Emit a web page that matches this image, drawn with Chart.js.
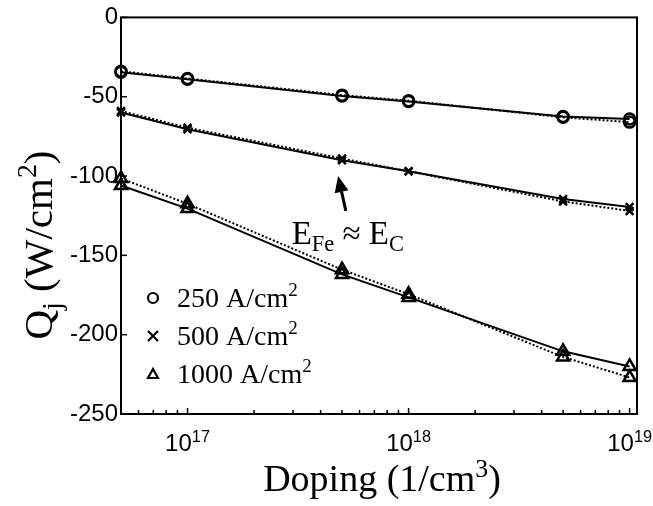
<!DOCTYPE html>
<html>
<head>
<meta charset="utf-8">
<script src="https://cdn.jsdelivr.net/npm/chart.js@4/dist/chart.umd.min.js"></script>
<style>
  html, body { margin: 0; padding: 0; background: #fff; }
  #wrap { width: 653px; height: 506px; }
</style>
</head>
<body>
<div id="wrap"><canvas id="c" width="653" height="506"></canvas></div>
<script>
// Doping levels (1/cm^3) and junction heat Q_j (W/cm^2) for three current densities.
const doping = [5e16, 1e17, 5e17, 1e18, 5e18, 1e19];

const q250Solid   = [-34.5, -39, -49.5, -53, -62.5, -64];
const q250Dotted  = [-34, -38.5, -49, -52.5, -63, -66];
const q500Solid   = [-60, -70.5, -90, -97, -114.5, -119.5];
const q500Dotted  = [-59, -69.5, -89, -97, -116, -122];
const q1000Solid  = [-106, -120.5, -162, -176.5, -210.5, -220];
const q1000Dotted = [-101.5, -117.5, -159, -174.5, -214, -227];

const legendLabels = ['250', '500', '1000'];
const legendMarkers = ['circle', 'crossRot', 'triangle'];
const xDecades = [17, 18, 19];
const yTicks = [0, -50, -100, -150, -200, -250];

// Annotation: arrow pointing at the 500 A/cm^2 curve, in data coordinates
const arrowTip = { x: 4.8e17, y: -100 };
const arrowTail = { x: 5.2e17, y: -122 };

function toPoints(vals) {
  return doping.map((d, i) => ({ x: d, y: vals[i] }));
}

function series(vals, style, dotted, radius) {
  return {
    data: toPoints(vals),
    borderColor: '#000',
    borderWidth: 2,
    borderDash: dotted ? [2, 2] : [],
    pointStyle: style,
    pointRadius: radius,
    pointBorderColor: '#000',
    pointBackgroundColor: 'rgba(0,0,0,0)',
    pointBorderWidth: 2.5,
    tension: 0,
    fill: false,
    clip: false
  };
}

const SERIF = '"Liberation Serif", "Times New Roman", serif';
const SANS = '"Liberation Sans", Arial, sans-serif';

// Draws a run of text pieces; each piece can be normal, sub or sup.
function richText(ctx, pieces, x, y, size) {
  let cx = x;
  for (const p of pieces) {
    const s = p.k === 'n' ? size : size * 0.68;
    const dy = p.k === 'sup' ? -size * 0.38 : (p.k === 'sub' ? size * 0.22 : 0);
    ctx.font = s + 'px ' + (p.f || SERIF);
    ctx.fillText(p.t, cx, y + dy);
    cx += ctx.measureText(p.t).width;
  }
  return cx - x;
}
function richWidth(ctx, pieces, size) {
  let w = 0;
  for (const p of pieces) {
    const s = p.k === 'n' ? size : size * 0.68;
    ctx.font = s + 'px ' + (p.f || SERIF);
    w += ctx.measureText(p.t).width;
  }
  return w;
}

function drawMarker(ctx, style, x, y, r) {
  ctx.beginPath();
  if (style === 'circle') {
    ctx.arc(x, y, r, 0, Math.PI * 2);
  } else if (style === 'crossRot') {
    ctx.moveTo(x - r, y - r); ctx.lineTo(x + r, y + r);
    ctx.moveTo(x - r, y + r); ctx.lineTo(x + r, y - r);
  } else {
    ctx.moveTo(x, y - r);
    ctx.lineTo(x + r, y + r * 0.8);
    ctx.lineTo(x - r, y + r * 0.8);
    ctx.closePath();
  }
  ctx.stroke();
}

const decorations = {
  id: 'decorations',
  afterDraw(chart) {
    const ctx = chart.ctx;
    const a = chart.chartArea;
    const xs = chart.scales.x, ys = chart.scales.y;
    ctx.save();
    ctx.strokeStyle = '#000';
    ctx.fillStyle = '#000';
    ctx.lineWidth = 2;
    // Axes box
    ctx.strokeRect(a.left, a.top, a.right - a.left, a.bottom - a.top);

    // Y ticks (inward, left axis only)
    ctx.lineWidth = 1.5;
    for (const v of yTicks) {
      const py = ys.getPixelForValue(v);
      ctx.beginPath();
      ctx.moveTo(a.left, py); ctx.lineTo(a.left + 6, py);
      ctx.stroke();
    }
    // X ticks, major and minor (bottom axis only)
    for (let e = 16; e <= 19; e++) {
      for (let m = 1; m <= 9; m++) {
        const v = m * Math.pow(10, e);
        if (v < xs.min || v > xs.max) continue;
        const px = xs.getPixelForValue(v);
        const len = m === 1 ? 6 : 4;
        ctx.beginPath();
        ctx.moveTo(px, a.bottom); ctx.lineTo(px, a.bottom - len);
        ctx.stroke();
      }
    }

    // X tick labels 10^n
    ctx.textBaseline = 'alphabetic';
    ctx.textAlign = 'left';
    for (const e of xDecades) {
      const px = xs.getPixelForValue(Math.pow(10, e));
      const pieces = [{ t: '10', k: 'n', f: SANS }, { t: String(e), k: 'sup', f: SANS }];
      const w = richWidth(ctx, pieces, 24);
      richText(ctx, pieces, px - w / 2, 451, 24);
    }

    // X axis title
    const xt = [{ t: 'Doping (1/cm', k: 'n' }, { t: '3', k: 'sup' }, { t: ')', k: 'n' }];
    const xw = richWidth(ctx, xt, 38);
    richText(ctx, xt, (a.left + a.right) / 2 - xw / 2 + 3, 491, 38);

    // Y axis title (rotated)
    const yt = [{ t: 'Q', k: 'n' }, { t: 'j', k: 'sub' }, { t: ' (W/cm', k: 'n' }, { t: '2', k: 'sup' }, { t: ')', k: 'n' }];
    const yw = richWidth(ctx, yt, 41);
    ctx.save();
    ctx.translate(52, 245);
    ctx.rotate(-Math.PI / 2);
    richText(ctx, yt, -yw / 2, 0, 41);
    ctx.restore();

    // Legend
    ctx.lineWidth = 2.2;
    for (let i = 0; i < legendLabels.length; i++) {
      const ly = 298 + i * 38;
      drawMarker(ctx, legendMarkers[i], 153, ly, 5);
      ctx.fillStyle = '#000';
      richText(ctx, [{ t: legendLabels[i] + ' A/cm', k: 'n' }, { t: '2', k: 'sup' }], 177, ly + 9, 28);
    }

    // Annotation arrow and label
    const tx = xs.getPixelForValue(arrowTip.x), ty = ys.getPixelForValue(arrowTip.y);
    const bx = xs.getPixelForValue(arrowTail.x), by = ys.getPixelForValue(arrowTail.y);
    const ang = Math.atan2(ty - by, tx - bx);
    const hl = 16, hw = 7;
    const hx = tx - hl * Math.cos(ang), hy = ty - hl * Math.sin(ang);
    ctx.lineWidth = 3;
    ctx.beginPath(); ctx.moveTo(bx, by); ctx.lineTo(hx, hy); ctx.stroke();
    ctx.beginPath();
    ctx.moveTo(tx, ty);
    ctx.lineTo(hx + hw * Math.sin(ang), hy - hw * Math.cos(ang));
    ctx.lineTo(hx - hw * Math.sin(ang), hy + hw * Math.cos(ang));
    ctx.closePath(); ctx.fill();

    const lab = [{ t: 'E', k: 'n' }, { t: 'Fe', k: 'sub' }, { t: ' \u2248 ', k: 'n' }, { t: 'E', k: 'n' }, { t: 'C', k: 'sub' }];
    const lw = richWidth(ctx, lab, 33);
    richText(ctx, lab, bx + 2 - lw / 2, by + 33, 33);
    ctx.restore();
  }
};

new Chart(document.getElementById('c'), {
  type: 'line',
  data: {
    datasets: [
      series(q250Dotted, 'circle', true, 5.5),
      series(q250Solid, 'circle', false, 5.5),
      series(q500Dotted, 'crossRot', true, 5.5),
      series(q500Solid, 'crossRot', false, 5.5),
      series(q1000Dotted, 'triangle', true, 7),
      series(q1000Solid, 'triangle', false, 7)
    ]
  },
  options: {
    responsive: false,
    animation: false,
    devicePixelRatio: 1,
    layout: { padding: { left: 0, right: 16, top: 12, bottom: 0 } },
    plugins: { legend: { display: false }, tooltip: { enabled: false } },
    scales: {
      x: {
        type: 'logarithmic',
        min: 5e16,
        max: 1.08e19,
        grid: { display: false, drawTicks: false },
        border: { display: false },
        ticks: { display: false },
        afterFit(s) { s.height = 92; }
      },
      y: {
        type: 'linear',
        min: -250,
        max: 0,
        grid: { display: false, drawTicks: false },
        border: { display: false },
        ticks: {
          stepSize: 50,
          padding: 3,
          color: '#000',
          font: { family: SANS, size: 24 },
          callback: v => String(v)
        },
        afterFit(s) { s.width = 121; }
      }
    }
  },
  plugins: [decorations]
});
</script>
</body>
</html>
